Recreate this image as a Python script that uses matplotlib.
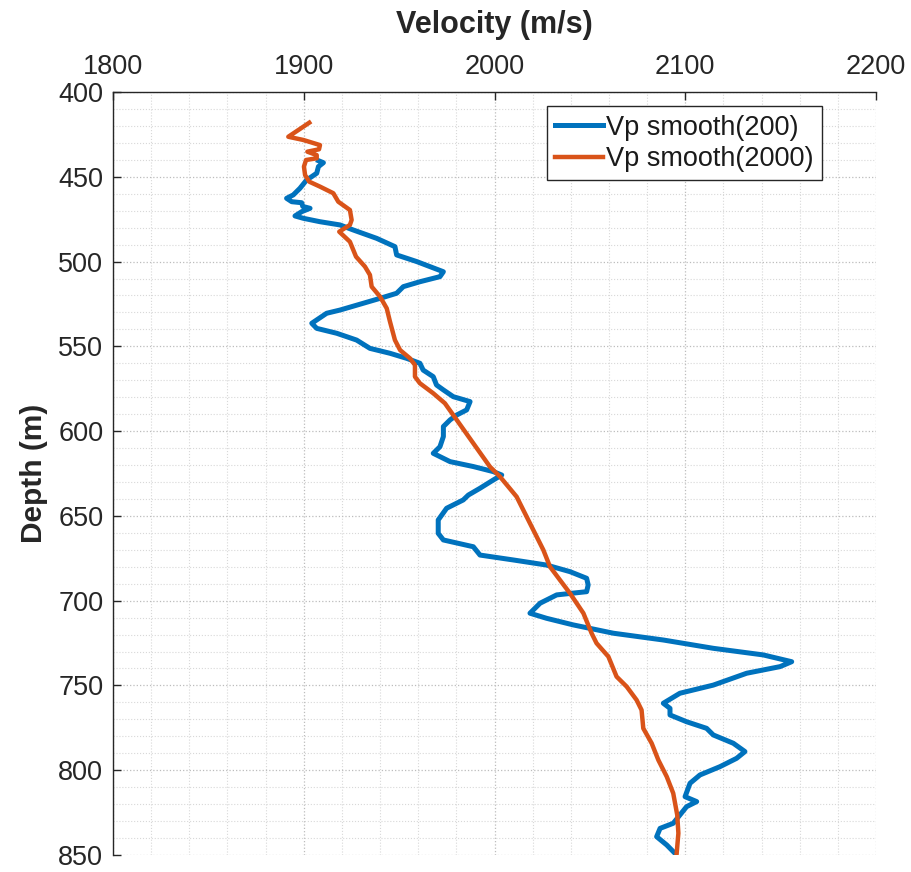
import matplotlib
matplotlib.use("Agg")
import matplotlib.pyplot as plt
from matplotlib.ticker import MultipleLocator

plt.rcParams['font.family'] = ['Liberation Sans', 'DejaVu Sans']

# Vp smoothed with a 200-sample window
depth_200 = [440.5, 441.7, 444.0, 447.9, 449.9, 451.9, 456.8, 460.7, 462.7, 464.7,
             465.3, 467.5, 468.6, 470.6, 473.1, 474.5, 476.5, 478.4, 481.4, 486.3,
             491.2, 496.1, 500.0, 506.0, 508.9, 511.9, 514.8, 518.7, 521.7, 524.6,
             528.6, 530.5, 536.4, 539.4, 542.3, 546.3, 551.2, 554.1, 557.1, 560.0,
             564.0, 567.9, 572.8, 575.7, 579.7, 582.6, 587.5, 590.5, 593.4, 597.3,
             603.2, 609.2, 613.1, 618.0, 620.9, 623.9, 625.9, 628.8, 633.7, 637.7,
             640.6, 645.5, 652.4, 660.3, 664.2, 668.2, 673.1, 676.0, 679.0, 682.9,
             686.8, 690.7, 694.7, 696.6, 701.5, 707.4, 710.4, 714.3, 719.2, 723.2,
             728.1, 732.0, 736.0, 738.9, 742.8, 749.8, 754.6, 760.5, 763.5, 767.4,
             771.4, 775.3, 779.2, 784.1, 789.0, 793.0, 797.9, 802.8, 807.7, 815.6,
             818.5, 821.5, 826.4, 831.3, 834.3, 839.2, 844.1, 849.0]
vp_200 = [1907.7, 1910.3, 1907.7, 1906.8, 1904.2, 1901.5, 1898.0, 1894.5, 1891.0, 1893.7,
          1898.9, 1899.5, 1903.3, 1898.9, 1895.4, 1899.8, 1908.5, 1919.0, 1926.0, 1938.2,
          1947.8, 1948.7, 1959.2, 1973.2, 1971.4, 1960.9, 1952.2, 1948.7, 1940.0, 1931.2,
          1919.0, 1912.0, 1904.2, 1906.8, 1917.3, 1927.7, 1934.7, 1945.2, 1954.0, 1960.9,
          1962.6, 1967.9, 1969.6, 1973.2, 1978.4, 1987.2, 1985.4, 1980.2, 1976.7, 1973.2,
          1973.2, 1971.4, 1967.9, 1976.7, 1988.9, 1999.4, 2003.8, 1999.4, 1992.4, 1986.3,
          1983.6, 1974.9, 1970.5, 1970.5, 1973.2, 1988.9, 1992.4, 2009.9, 2027.3, 2039.6,
          2048.3, 2049.1, 2048.3, 2032.6, 2023.9, 2018.6, 2027.3, 2041.3, 2062.3, 2088.5,
          2114.7, 2140.9, 2155.8, 2149.7, 2132.2, 2114.7, 2097.2, 2088.5, 2092.0, 2092.0,
          2100.7, 2111.2, 2114.7, 2125.2, 2131.3, 2126.9, 2118.2, 2107.7, 2102.5, 2099.9,
          2106.0, 2100.7, 2097.2, 2093.7, 2086.8, 2085.0, 2090.3, 2094.6]

# Vp smoothed with a 2000-sample window
depth_2000 = [418.1, 426.4, 428.3, 431.3, 433.8, 435.2, 437.2, 439.1, 440.1, 444.0,
              449.0, 452.9, 455.8, 459.7, 464.7, 469.6, 475.5, 478.4, 482.4, 488.3,
              497.1, 503.0, 507.9, 514.8, 520.7, 527.6, 535.4, 546.3, 552.2, 557.1,
              561.0, 567.9, 571.8, 577.7, 583.6, 593.4, 607.2, 621.0, 626.9, 638.7,
              654.4, 670.1, 680.0, 687.8, 695.7, 707.4, 719.2, 725.1, 733.0, 744.8,
              750.7, 758.6, 764.5, 775.3, 784.1, 794.0, 803.8, 813.6, 826.4, 837.2,
              849.0]
vp_2000 = [1902.9, 1891.9, 1899.8, 1908.5, 1908.0, 1901.9, 1906.8, 1906.8, 1901.2, 1900.1,
           1900.7, 1902.9, 1908.5, 1915.5, 1918.1, 1924.2, 1925.1, 1924.2, 1918.6, 1924.2,
           1927.4, 1932.1, 1934.7, 1935.6, 1940.0, 1943.5, 1945.2, 1947.8, 1950.5, 1955.7,
           1958.3, 1958.3, 1960.9, 1967.9, 1974.0, 1980.2, 1988.9, 1997.6, 2002.9, 2011.6,
           2018.6, 2025.6, 2029.1, 2034.3, 2039.6, 2046.6, 2050.9, 2053.5, 2059.7, 2064.0,
           2069.3, 2074.5, 2077.1, 2078.0, 2082.4, 2085.9, 2090.3, 2093.7, 2095.8, 2096.4,
           2095.5]

x_ticks = [1800, 1900, 2000, 2100, 2200]
y_ticks = [400, 450, 500, 550, 600, 650, 700, 750, 800, 850]

AX_COLOR = '#262626'

fig = plt.figure(figsize=(9.12, 8.72), dpi=100)
ax = fig.add_axes([113 / 912, 17 / 872, 763 / 912, 763 / 872])

ax.plot(vp_200, depth_200, color='#0072BD', lw=3.6, label='Vp smooth(200)',
        solid_joinstyle='round')
ax.plot(vp_2000, depth_2000, color='#D95319', lw=3.2, label='Vp smooth(2000)',
        solid_joinstyle='round')

ax.set_xlim(1800, 2200)
ax.set_ylim(850, 400)
ax.set_xticks(x_ticks)
ax.set_yticks(y_ticks)
ax.xaxis.set_minor_locator(MultipleLocator(20))
ax.yaxis.set_minor_locator(MultipleLocator(10))

ax.xaxis.tick_top()
ax.xaxis.set_label_position('top')

for side in ('right', 'bottom'):
    ax.spines[side].set_visible(False)
for side in ('left', 'top'):
    ax.spines[side].set_color(AX_COLOR)
    ax.spines[side].set_linewidth(1.0)

ax.tick_params(which='major', direction='in', length=6, width=1.0,
               colors=AX_COLOR, labelsize=19.5, labelcolor=AX_COLOR)
ax.tick_params(axis='x', which='major', pad=9)
ax.tick_params(axis='y', which='major', pad=7)
ax.tick_params(which='minor', length=0)

ax.grid(which='major', linestyle=':', color='#bcbcbc', lw=0.9)
ax.grid(which='minor', linestyle=':', color='#d8d8d8', lw=0.8)
ax.set_axisbelow(True)

ax.set_xlabel('Velocity (m/s)', fontsize=22, fontweight='bold', color=AX_COLOR, labelpad=15)
ax.set_ylabel('Depth (m)', fontsize=21.5, fontweight='bold', color=AX_COLOR, labelpad=7)

leg = ax.legend(loc='upper right', bbox_to_anchor=(0.929, 0.981), borderaxespad=0,
                fontsize=19.5, frameon=True, fancybox=False, handlelength=1.8,
                handletextpad=0.1, borderpad=0.3, labelspacing=0.2)
leg.get_frame().set_edgecolor('#262626')
leg.get_frame().set_linewidth(1.0)
leg.get_frame().set_alpha(1.0)
for t in leg.get_texts():
    t.set_color('#1a1a1a')

fig.savefig('out.png', dpi=100)
